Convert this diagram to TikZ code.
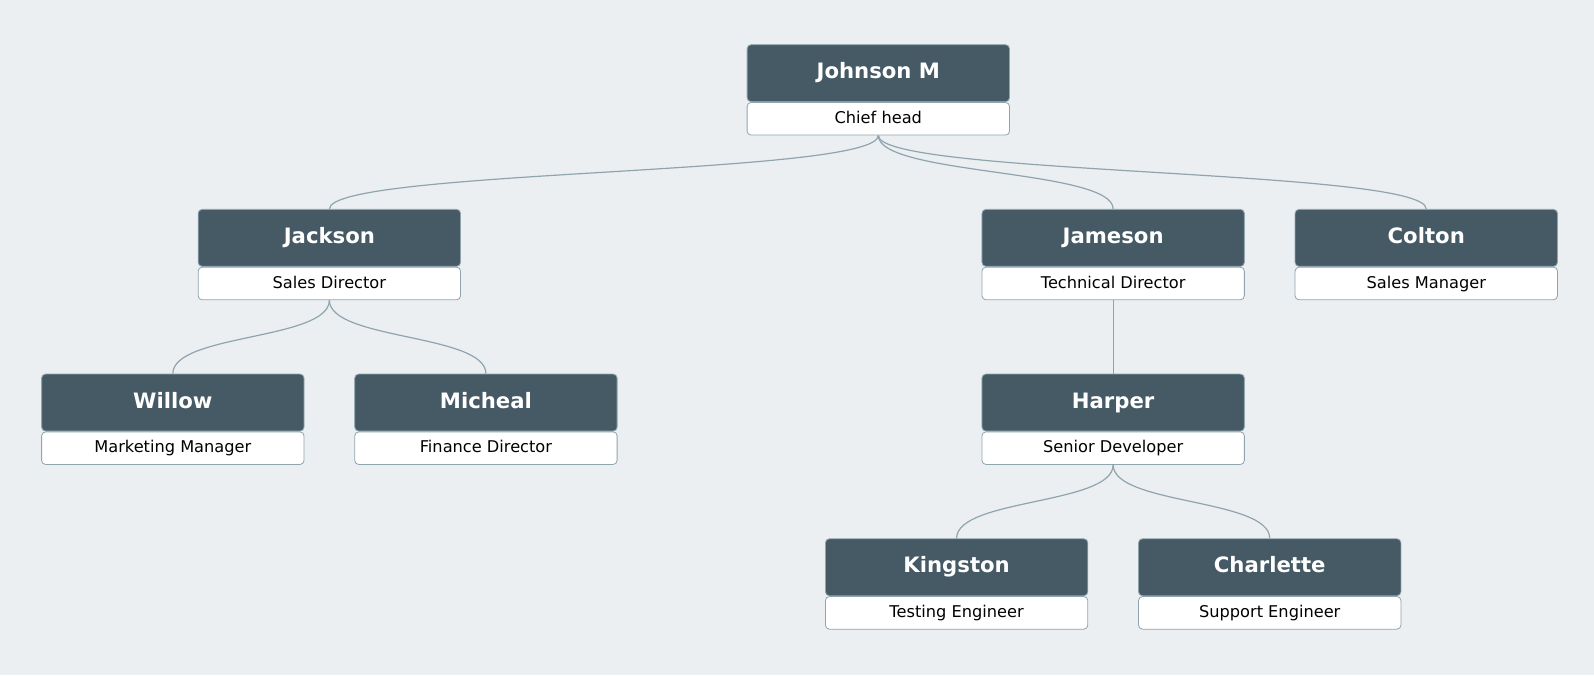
\documentclass[tikz,border=0pt]{standalone}
\usepackage{fontspec}
\setmainfont{DejaVu Sans}
\definecolor{bgc}{HTML}{EBEFF2}
\definecolor{headc}{HTML}{455A64}
\definecolor{edgec}{HTML}{90A4AE}
\tikzset{
  head/.style={draw=edgec,fill=headc,text=white,rounded corners=2pt,minimum width=131.2pt,minimum height=28.5pt,inner sep=0pt,text height=7.9pt,text depth=2.2pt,font=\fontsize{10.6}{12}\selectfont\bfseries},
  role/.style={draw=edgec,fill=white,rounded corners=2pt,minimum width=131.2pt,minimum height=16.3pt,inner sep=0pt,text height=5.9pt,text depth=1.2pt,font=\fontsize{8.1}{10}\selectfont},
  link/.style={draw=edgec,line width=0.6pt}
}
\newcommand{\person}[4]{%
  \node[head] (#1) at (#2,#3+28) {#4};
  \node[role,anchor=north] (#1r) at (#1.south) {\csname role#1\endcsname};
}
\begin{document}
\begin{tikzpicture}[x=0.5083pt,y=-0.5083pt]
\fill[bgc] (0,0) rectangle (1568,664);
\useasboundingbox (0,0) rectangle (1568,664);

\def\rolejohnson{Chief head}
\def\rolejackson{Sales Director}
\def\rolejameson{Technical Director}
\def\rolecolton{Sales Manager}
\def\rolewillow{Marketing Manager}
\def\rolemicheal{Finance Director}
\def\roleharper{Senior Developer}
\def\rolekingston{Testing Engineer}
\def\rolecharlette{Support Engineer}

\person{johnson}{864}{44}{Johnson M}
\person{jackson}{324}{206}{Jackson}
\person{jameson}{1095}{206}{Jameson}
\person{colton}{1403}{206}{Colton}
\person{willow}{170}{368}{Willow}
\person{micheal}{478}{368}{Micheal}
\person{harper}{1095}{368}{Harper}
\person{kingston}{941}{530}{Kingston}
\person{charlette}{1249}{530}{Charlette}

% links
\foreach \p/\c in {johnson/jackson,johnson/jameson,johnson/colton,jackson/willow,jackson/micheal,harper/kingston,harper/charlette}
  \draw[link] (\p r.south) .. controls ([yshift=-20pt]\p r.south) and ([yshift=20pt]\c.north) .. (\c.north);
\draw[link] (jamesonr.south) -- (harper.north);

\end{tikzpicture}
\end{document}
